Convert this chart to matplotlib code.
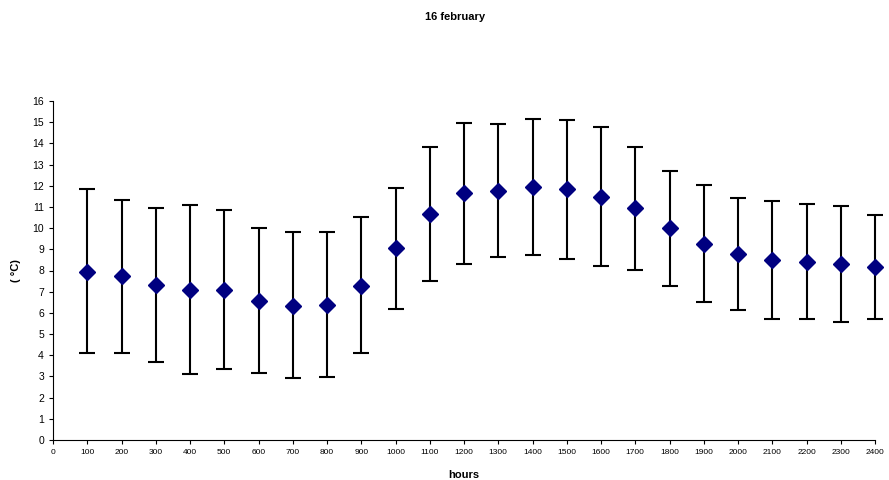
import numpy as np
import matplotlib
matplotlib.use("Agg")
import matplotlib.pyplot as plt

plt.rcParams["font.family"] = ["Liberation Sans", "DejaVu Sans"]

# hourly data
hours = [100, 200, 300, 400, 500, 600, 700, 800, 900, 1000, 1100, 1200,
         1300, 1400, 1500, 1600, 1700, 1800, 1900, 2000, 2100, 2200, 2300, 2400]
mean_temp = [7.95, 7.74, 7.32, 7.10, 7.10, 6.58, 6.34, 6.37, 7.28, 9.05, 10.67, 11.64,
             11.77, 11.96, 11.85, 11.47, 10.95, 9.99, 9.27, 8.78, 8.48, 8.40, 8.31, 8.18]
upper = [11.83, 11.34, 10.93, 11.11, 10.87, 10.02, 9.83, 9.80, 10.51, 11.88, 13.81, 14.95,
         14.91, 15.13, 15.10, 14.76, 13.81, 12.70, 12.04, 11.42, 11.30, 11.14, 11.04, 10.62]
lower = [4.09, 4.12, 3.70, 3.13, 3.34, 3.16, 2.91, 2.99, 4.09, 6.20, 7.52, 8.31,
         8.62, 8.75, 8.56, 8.20, 8.04, 7.28, 6.51, 6.12, 5.70, 5.70, 5.59, 5.73]

mean_temp = np.array(mean_temp)
err_low = mean_temp - np.array(lower)
err_high = np.array(upper) - mean_temp

fig = plt.figure(figsize=(8.89, 4.8), dpi=100)
ax = fig.add_axes([53/889, 1 - 440/480, (875 - 53)/889, (440 - 101)/480])

eb = ax.errorbar(hours, mean_temp, yerr=[err_low, err_high], fmt="D", color="#000080",
                 markersize=8, ecolor="black", elinewidth=1.5, capsize=5.5, capthick=1.5)
for artist in eb.get_children():
    artist.set_clip_on(False)

ax.set_xlim(0, 2400)
ax.set_ylim(0, 16)
ax.set_xticks(np.arange(0, 2401, 100))
ax.set_yticks(np.arange(0, 17, 1))
ax.tick_params(axis="x", labelsize=6, length=3, direction="out")
ax.tick_params(axis="y", labelsize=7.5, length=3, direction="out")
ax.spines["top"].set_visible(False)
ax.spines["right"].set_visible(False)

ax.set_xlabel("hours", fontsize=8, fontweight="bold", labelpad=10)
ax.set_ylabel("( °C)", fontsize=8, fontweight="bold", labelpad=8)
fig.text(0.512, 0.965, "16 february", ha="center", va="center", fontsize=8, fontweight="bold")

fig.savefig("out.png", dpi=100)
